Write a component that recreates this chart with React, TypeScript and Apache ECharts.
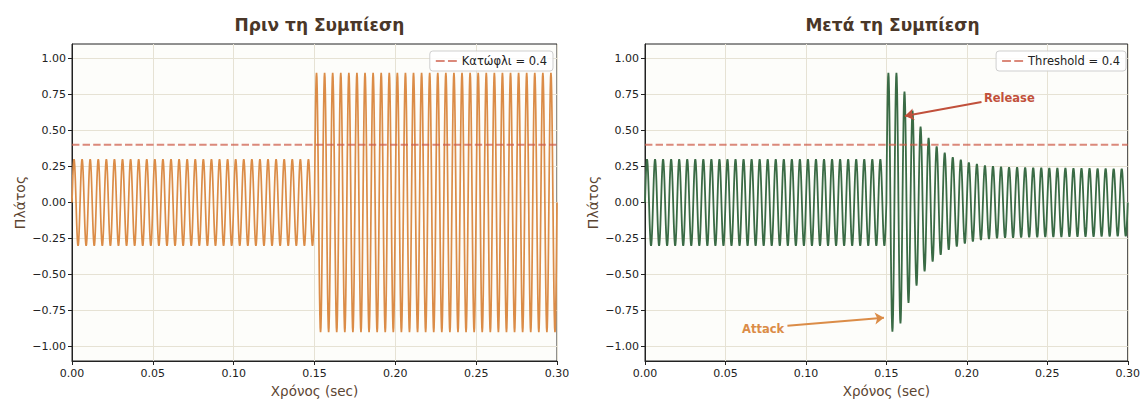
import React, { useEffect, useRef } from "react";
import * as echarts from "echarts";

// ---- values ----
const X_TICKS = [0, 0.05, 0.1, 0.15, 0.2, 0.25, 0.3];
const Y_TICKS = [-1, -0.75, -0.5, -0.25, 0, 0.25, 0.5, 0.75, 1];
const DURATION = 0.3; // seconds
const SIGNAL_FREQ = 200; // Hz (60 cycles in 0.3 s)
const QUIET_AMP = 0.3;
const LOUD_AMP = 0.9;
const LOUD_START = 0.15;
const THRESHOLD = 0.4;
// peak amplitude of each half-cycle of the compressed signal after LOUD_START
const COMPRESSED_HALF_CYCLE_AMPS = [
  0.9, 0.897, 0.9, 0.84, 0.77, 0.697, 0.637, 0.577, 0.526, 0.478,
  0.448, 0.41, 0.39, 0.363, 0.345, 0.329, 0.315, 0.306, 0.297, 0.285,
  0.278, 0.271, 0.267, 0.26, 0.257, 0.253, 0.252, 0.248, 0.248, 0.245,
  0.245, 0.244, 0.244, 0.243, 0.243, 0.242, 0.242, 0.241, 0.241, 0.24,
  0.24, 0.24, 0.239, 0.239, 0.239, 0.238, 0.238, 0.238, 0.237, 0.237,
  0.237, 0.237, 0.236, 0.236, 0.236, 0.236, 0.235, 0.235, 0.235, 0.235,
];
const TITLES = ["Πριν τη Συμπίεση", "Μετά τη Συμπίεση"];
const LEGEND_NAMES = ["Κατώφλι = 0.4", "Threshold = 0.4"];
const X_NAME = "Χρόνος (sec)";
const Y_NAME = "Πλάτος";
const RELEASE = { label: "Release", text: [0.2103, 0.724], from: [0.2091, 0.697], to: [0.1615, 0.6] };
const ATTACK = { label: "Attack", text: [0.06, -0.876], from: [0.0885, -0.855], to: [0.1485, -0.8] };
const SAMPLES_PER_CYCLE = 24;

function buildSignals() {
  const rate = SIGNAL_FREQ * SAMPLES_PER_CYCLE;
  const n = Math.round(DURATION * rate);
  const before: number[][] = [];
  const after: number[][] = [];
  for (let i = 0; i <= n; i++) {
    const t = i / rate;
    const s = Math.sin(2 * Math.PI * SIGNAL_FREQ * t);
    const loud = t >= LOUD_START - 1e-9;
    before.push([t, (loud ? LOUD_AMP : QUIET_AMP) * s]);
    let a = QUIET_AMP;
    if (loud) {
      const k = Math.min(
        COMPRESSED_HALF_CYCLE_AMPS.length - 1,
        Math.floor((t - LOUD_START) * SIGNAL_FREQ * 2 + 1e-9)
      );
      a = COMPRESSED_HALF_CYCLE_AMPS[k];
    }
    after.push([t, a * s]);
  }
  return { before, after };
}

const FONT = "DejaVu Sans";
const TICK_COLOR = "#222";
const NAME_COLOR = "#5c4532";
const TITLE_COLOR = "#4a3728";
const ORANGE = "#db8c47";
const GREEN = "#3a6b45";
const RED_DASH = "rgba(205,92,72,0.72)";
const RELEASE_COLOR = "#c1503b";
const GRID_COLOR = "#e6e2d4";
const DASH_ICON = "path://M0,0h8v2h-8z M11,0h8v2h-8z";

const fmt = (v: number) => (v < 0 ? "\u2212" + Math.abs(v).toFixed(2) : v.toFixed(2));

export default function App() {
  const ref = useRef<HTMLDivElement>(null);
  useEffect(() => {
    if (!ref.current) return;
    const chart = echarts.init(ref.current, undefined, { renderer: "svg" });
    const { before, after } = buildSignals();
    const grids = [
      { left: 72, right: 586, top: 44, bottom: 40 },
      { left: 645, right: 13, top: 44, bottom: 40 },
    ];
    const xAxes = grids.map((_, i) => ({
      type: "value",
      gridIndex: i,
      min: X_TICKS[0],
      max: X_TICKS[X_TICKS.length - 1],
      interval: 0.05,
      name: X_NAME,
      nameLocation: "middle",
      nameGap: 23,
      nameTextStyle: { fontFamily: FONT, fontSize: 13.5, color: NAME_COLOR },
      axisLine: { show: true, onZero: false, lineStyle: { color: TICK_COLOR, width: 1 } },
      axisTick: { show: true, length: 4, lineStyle: { color: TICK_COLOR } },
      axisLabel: { formatter: (v: number) => fmt(v), fontFamily: FONT, fontSize: 11, color: TICK_COLOR, margin: 7 },
      splitLine: { show: true, lineStyle: { color: GRID_COLOR, width: 1 } },
    }));
    const yAxes = grids.map((_, i) => ({
      type: "value",
      gridIndex: i,
      min: -1.1,
      max: 1.1,
      name: Y_NAME,
      nameLocation: "middle",
      nameGap: 45,
      nameTextStyle: { fontFamily: FONT, fontSize: 14, color: NAME_COLOR },
      axisLine: { show: true, onZero: false, lineStyle: { color: TICK_COLOR, width: 1 } },
      axisTick: { show: true, length: 4, lineStyle: { color: TICK_COLOR }, customValues: Y_TICKS },
      axisLabel: { customValues: Y_TICKS, formatter: (v: number) => fmt(v), fontFamily: FONT, fontSize: 11, color: TICK_COLOR, margin: 6 },
      splitLine: { show: true, lineStyle: { color: GRID_COLOR, width: 1 } },
    }));
    const thresholdData = [[X_TICKS[0], THRESHOLD], [X_TICKS[X_TICKS.length - 1], THRESHOLD]];
    const thresholdSeries = (i: number) => ({
      type: "line",
      name: LEGEND_NAMES[i],
      xAxisIndex: i,
      yAxisIndex: i,
      data: thresholdData,
      showSymbol: false,
      symbol: "none",
      z: 4,
      lineStyle: { color: RED_DASH, width: 2, type: [7.4, 3.2] },
      itemStyle: { color: RED_DASH },
      silent: true,
    });
    const legendBase = {
      top: 51,
      orient: "horizontal",
      backgroundColor: "rgba(255,255,255,0.85)",
      borderColor: "#cfcfcf",
      borderWidth: 1,
      borderRadius: 3,
      padding: [4, 6],
      itemWidth: 21,
      itemHeight: 10,
      itemGap: 8,
      textStyle: { fontFamily: FONT, fontSize: 11.5, color: TICK_COLOR },
      selectedMode: false,
    };
    const option: any = {
      animation: false,
      backgroundColor: "#ffffff",
      title: TITLES.map((t, i) => ({
        text: t,
        left: i === 0 ? 314.5 : 887.5,
        top: 11,
        textAlign: "center",
        textStyle: { fontFamily: FONT, fontSize: 17, fontWeight: "bold", color: TITLE_COLOR },
      })),
      legend: [
        { ...legendBase, right: 590, data: [{ name: LEGEND_NAMES[0], icon: DASH_ICON, itemStyle: { color: RED_DASH } }] },
        { ...legendBase, right: 17, data: [{ name: LEGEND_NAMES[1], icon: DASH_ICON, itemStyle: { color: RED_DASH } }] },
      ],
      grid: grids.map((g) => ({
        ...g,
        show: true,
        backgroundColor: "#fdfdfa",
        borderColor: TICK_COLOR,
        borderWidth: 1,
      })),
      xAxis: xAxes,
      yAxis: yAxes,
      series: [
        {
          type: "line",
          name: "before",
          xAxisIndex: 0,
          yAxisIndex: 0,
          data: before,
          showSymbol: false,
          symbol: "none",
          z: 3,
          lineStyle: { color: ORANGE, width: 1.7 },
          silent: true,
        },
        thresholdSeries(0),
        {
          type: "line",
          name: "after",
          xAxisIndex: 1,
          yAxisIndex: 1,
          data: after,
          showSymbol: false,
          symbol: "none",
          z: 3,
          lineStyle: { color: GREEN, width: 1.8 },
          silent: true,
          markLine: {
            silent: true,
            symbol: ["none", "arrow"],
            symbolSize: 9,
            label: { show: false },
            data: [
              [
                { coord: RELEASE.from, lineStyle: { color: RELEASE_COLOR, width: 2, type: "solid" }, itemStyle: { color: RELEASE_COLOR } },
                { coord: RELEASE.to },
              ],
              [
                { coord: ATTACK.from, lineStyle: { color: ORANGE, width: 2, type: "solid" }, itemStyle: { color: ORANGE } },
                { coord: ATTACK.to },
              ],
            ],
          },
          markPoint: {
            silent: true,
            symbol: "circle",
            symbolSize: 1,
            itemStyle: { color: "rgba(0,0,0,0)" },
            data: [
              {
                coord: RELEASE.text,
                label: { show: true, position: "right", distance: 0, formatter: RELEASE.label, color: RELEASE_COLOR, fontWeight: "bold", fontSize: 11.5, fontFamily: FONT },
              },
              {
                coord: ATTACK.text,
                label: { show: true, position: "right", distance: 0, formatter: ATTACK.label, color: ORANGE, fontWeight: "bold", fontSize: 11.5, fontFamily: FONT },
              },
            ],
          },
        },
        thresholdSeries(1),
      ],
    };
    chart.setOption(option);
    return () => chart.dispose();
  }, []);
  return <div ref={ref} style={{ position: "fixed", left: 0, top: 0, width: 1143, height: 403 }} />;
}
